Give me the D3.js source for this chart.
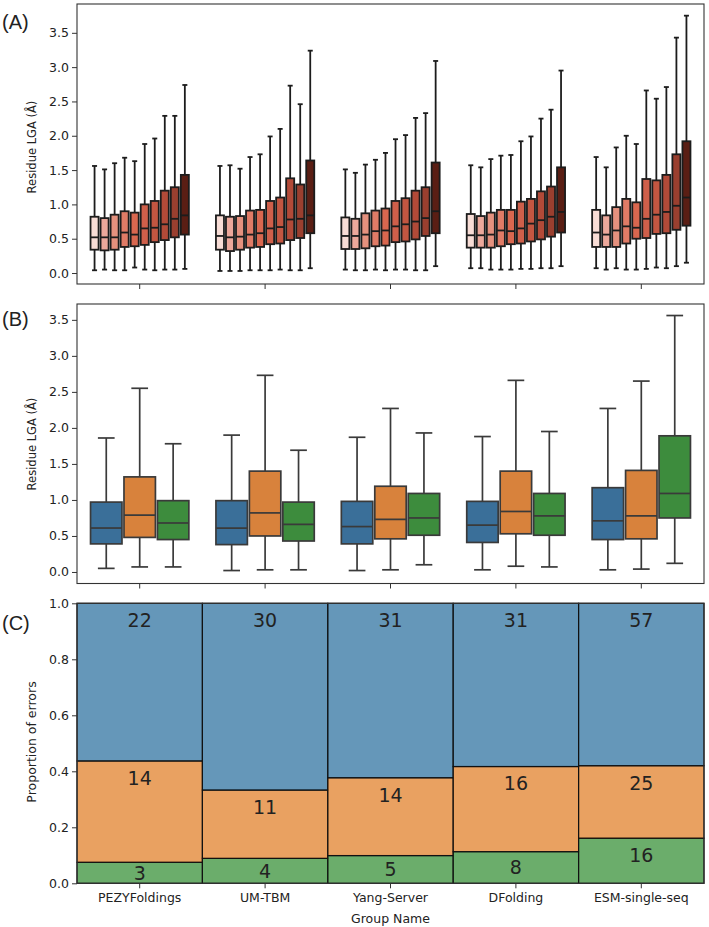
<!DOCTYPE html>
<html lang="en">
<head>
    <meta charset="UTF-8">
    <title>Residue LGA by group</title>
    <script src="https://d3js.org/d3.v7.min.js"></script>
    <style>
        body { margin: 0; background: #fff; }
        text { font-family: "DejaVu Sans", sans-serif; fill: #222; }
    </style>
</head>
<body>
<svg id="viz" width="709" height="927"></svg>

<script>
    // categories
    var groups = ["PEZYFoldings", "UM-TBM", "Yang-Server", "DFolding", "ESM-single-seq"];

    // panel A: ten boxes per group (whisker low, q1, median, q3, whisker high)
    var aLow = [
        [0.04, 0.05, 0.04, 0.04, 0.08, 0.05, 0.04, 0.05, 0.05, 0.06],
        [0.03, 0.03, 0.03, 0.04, 0.04, 0.04, 0.05, 0.04, 0.04, 0.07],
        [0.05, 0.04, 0.04, 0.05, 0.04, 0.05, 0.05, 0.04, 0.04, 0.10],
        [0.07, 0.07, 0.05, 0.05, 0.05, 0.06, 0.06, 0.07, 0.07, 0.10],
        [0.07, 0.05, 0.07, 0.05, 0.05, 0.06, 0.08, 0.07, 0.10, 0.15]
    ];
    var aQ1 = [
        [0.34, 0.33, 0.34, 0.38, 0.39, 0.41, 0.45, 0.48, 0.52, 0.56],
        [0.34, 0.32, 0.34, 0.37, 0.38, 0.42, 0.43, 0.48, 0.51, 0.58],
        [0.35, 0.35, 0.36, 0.39, 0.40, 0.45, 0.46, 0.49, 0.54, 0.58],
        [0.37, 0.37, 0.37, 0.39, 0.42, 0.43, 0.46, 0.49, 0.53, 0.59],
        [0.38, 0.38, 0.38, 0.43, 0.50, 0.51, 0.57, 0.58, 0.63, 0.69]
    ];
    var aMed = [
        [0.52, 0.52, 0.52, 0.59, 0.56, 0.65, 0.66, 0.71, 0.79, 0.84],
        [0.54, 0.52, 0.53, 0.56, 0.58, 0.65, 0.67, 0.78, 0.79, 0.84],
        [0.54, 0.54, 0.56, 0.61, 0.62, 0.68, 0.71, 0.75, 0.80, 0.90],
        [0.55, 0.55, 0.56, 0.62, 0.61, 0.65, 0.72, 0.77, 0.82, 0.89],
        [0.59, 0.56, 0.62, 0.68, 0.66, 0.79, 0.85, 0.89, 0.98, 1.10]
    ];
    var aQ3 = [
        [0.82, 0.80, 0.85, 0.90, 0.88, 1.00, 1.05, 1.20, 1.25, 1.43],
        [0.84, 0.82, 0.83, 0.91, 0.92, 1.05, 1.10, 1.38, 1.29, 1.64],
        [0.81, 0.79, 0.87, 0.91, 0.94, 1.05, 1.09, 1.20, 1.25, 1.61],
        [0.86, 0.83, 0.88, 0.92, 0.92, 1.04, 1.08, 1.19, 1.26, 1.54],
        [0.92, 0.84, 0.96, 1.08, 1.03, 1.37, 1.35, 1.43, 1.73, 1.92]
    ];
    var aHigh = [
        [1.56, 1.51, 1.60, 1.68, 1.63, 1.88, 1.96, 2.29, 2.29, 2.74],
        [1.56, 1.57, 1.52, 1.69, 1.73, 1.99, 2.10, 2.73, 2.46, 3.24],
        [1.51, 1.46, 1.58, 1.65, 1.75, 1.95, 2.01, 2.26, 2.33, 3.09],
        [1.57, 1.54, 1.66, 1.71, 1.72, 1.92, 1.99, 2.25, 2.38, 2.95],
        [1.69, 1.54, 1.83, 2.00, 1.88, 2.66, 2.54, 2.71, 3.43, 3.75]
    ];
    var aColors = ["#f8ddd6", "#eca89b", "#e5917e", "#e07b66", "#d9674f",
        "#cf5f4a", "#c35641", "#b24a38", "#9a3f2f", "#5a1e14"];

    // panel B: three boxes per group
    var bLow = [[0.05, 0.07, 0.07], [0.02, 0.03, 0.03], [0.02, 0.03, 0.10], [0.03, 0.08, 0.07], [0.03, 0.04, 0.12]];
    var bQ1 = [[0.39, 0.48, 0.45], [0.38, 0.50, 0.43], [0.39, 0.46, 0.51], [0.41, 0.53, 0.51], [0.45, 0.46, 0.75]];
    var bMed = [[0.61, 0.79, 0.68], [0.61, 0.82, 0.66], [0.63, 0.73, 0.75], [0.65, 0.84, 0.78], [0.71, 0.78, 1.09]];
    var bQ3 = [[0.97, 1.32, 0.99], [0.99, 1.40, 0.97], [0.98, 1.19, 1.09], [0.98, 1.40, 1.09], [1.17, 1.41, 1.89]];
    var bHigh = [[1.86, 2.55, 1.78], [1.90, 2.73, 1.69], [1.87, 2.27, 1.93], [1.88, 2.66, 1.95], [2.27, 2.65, 3.56]];
    var bColors = ["#3a6f99", "#d8823c", "#3d8c3d"];
    var cColors = ["#3274a1", "#e1812c", "#3a923a"];

    // panel C: proportions (bottom to top) and counts
    var cGreen = [0.075, 0.089, 0.099, 0.113, 0.161];
    var cOrange = [0.362, 0.244, 0.278, 0.304, 0.259];
    var cBlue = [0.563, 0.667, 0.623, 0.583, 0.580];
    var nGreen = [3, 4, 5, 8, 16];
    var nOrange = [14, 11, 14, 16, 25];
    var nBlue = [22, 30, 31, 31, 57];

    var yTicksBox = [0, 0.5, 1.0, 1.5, 2.0, 2.5, 3.0, 3.5];
    var yTicksProp = [0, 0.2, 0.4, 0.6, 0.8, 1.0];

    var svg = d3.select("#viz");
    var left = 77, right = 704;

    var x = d3.scaleBand().domain(groups).range([left, right]).padding(0);

    function drawFrame(top, bottom, y, ticks, showLabels) {
        var g = svg.append("g");
        g.append("g")
            .attr("transform", "translate(" + left + ",0)")
            .call(d3.axisLeft(y).tickValues(ticks).tickFormat(d3.format(".1f")).tickSize(5).tickPadding(3))
            .call(function (a) { a.select(".domain").remove(); })
            .call(function (a) {
                a.selectAll("line").attr("stroke", "#333");
                a.selectAll("text").style("font-size", "12.5px").attr("fill", "#222")
                    .style("font-family", "DejaVu Sans");
            });
        var xa = g.append("g")
            .attr("transform", "translate(0," + bottom + ")")
            .call(d3.axisBottom(x).tickSize(5).tickPadding(5))
            .call(function (a) { a.select(".domain").remove(); });
        xa.selectAll("line").attr("stroke", "#333");
        xa.selectAll("text").style("font-size", "12.5px").attr("fill", "#222")
            .style("font-family", "DejaVu Sans");
        if (!showLabels) xa.selectAll("text").remove();
        g.append("rect")
            .attr("x", left).attr("y", top)
            .attr("width", right - left).attr("height", bottom - top)
            .attr("fill", "none").attr("stroke", "#333").attr("stroke-width", 1.1);
    }

    function drawBoxes(y, low, q1, med, q3, high, colors, edge, lw) {
        var n = colors.length;
        var inner = d3.scaleBand().domain(d3.range(n))
            .range([x.bandwidth() * 0.1, x.bandwidth() * 0.9]).padding(0);
        var slot = inner.bandwidth();
        var boxW = slot - 2;
        var capW = slot * 0.5;
        var data = [];
        groups.forEach(function (gname, gi) {
            for (var k = 0; k < n; k++) {
                data.push({
                    cx: x(gname) + inner(k) + slot / 2, k: k,
                    lo: low[gi][k], q1: q1[gi][k], med: med[gi][k], q3: q3[gi][k], hi: high[gi][k]
                });
            }
        });
        var box = svg.append("g").selectAll(".box").data(data).enter()
            .append("g").attr("class", "box");
        box.append("line")
            .attr("x1", function (d) { return d.cx; }).attr("x2", function (d) { return d.cx; })
            .attr("y1", function (d) { return y(d.hi); }).attr("y2", function (d) { return y(d.q3); })
            .attr("stroke", edge).attr("stroke-width", lw);
        box.append("line")
            .attr("x1", function (d) { return d.cx; }).attr("x2", function (d) { return d.cx; })
            .attr("y1", function (d) { return y(d.q1); }).attr("y2", function (d) { return y(d.lo); })
            .attr("stroke", edge).attr("stroke-width", lw);
        box.append("line")
            .attr("x1", function (d) { return d.cx - capW / 2; }).attr("x2", function (d) { return d.cx + capW / 2; })
            .attr("y1", function (d) { return y(d.hi); }).attr("y2", function (d) { return y(d.hi); })
            .attr("stroke", edge).attr("stroke-width", lw);
        box.append("line")
            .attr("x1", function (d) { return d.cx - capW / 2; }).attr("x2", function (d) { return d.cx + capW / 2; })
            .attr("y1", function (d) { return y(d.lo); }).attr("y2", function (d) { return y(d.lo); })
            .attr("stroke", edge).attr("stroke-width", lw);
        box.append("rect")
            .attr("x", function (d) { return d.cx - boxW / 2; })
            .attr("width", boxW)
            .attr("y", function (d) { return y(d.q3); })
            .attr("height", function (d) { return y(d.q1) - y(d.q3); })
            .attr("fill", function (d) { return colors[d.k]; })
            .attr("stroke", edge).attr("stroke-width", lw);
        box.append("line")
            .attr("x1", function (d) { return d.cx - boxW / 2; }).attr("x2", function (d) { return d.cx + boxW / 2; })
            .attr("y1", function (d) { return y(d.med); }).attr("y2", function (d) { return y(d.med); })
            .attr("stroke", edge).attr("stroke-width", lw);
    }

    function yLabel(text, cy, size) {
        svg.append("text")
            .attr("transform", "translate(36," + cy + ") rotate(-90)")
            .attr("text-anchor", "middle")
            .style("font-size", size + "px")
            .text(text);
    }

    function panelLabel(text, baseline) {
        svg.append("text")
            .attr("x", 2).attr("y", baseline)
            .style("font-family", "Liberation Sans, Arial, sans-serif")
            .style("font-size", "20px")
            .text(text);
    }

    // ---- panel A
    var yA = d3.scaleLinear().domain([-0.16, 3.92]).range([284, 4]);
    drawFrame(4, 284, yA, yTicksBox, false);
    drawBoxes(yA, aLow, aQ1, aMed, aQ3, aHigh, aColors, "#1c1c1c", 1.8);
    yLabel("Residue LGA (Å)", 147, 11.5);
    panelLabel("(A)", 29);

    // ---- panel B
    var yB = d3.scaleLinear().domain([-0.16, 3.72]).range([583.5, 304]);
    drawFrame(304, 583.5, yB, yTicksBox, false);
    drawBoxes(yB, bLow, bQ1, bMed, bQ3, bHigh, bColors, "#3a3a3a", 1.7);
    yLabel("Residue LGA (Å)", 444, 11.5);
    panelLabel("(B)", 326);

    // ---- panel C
    var yC = d3.scaleLinear().domain([0, 1]).range([883.3, 603.3]);
    var stack = [];
    groups.forEach(function (gname, i) {
        var b0 = 0;
        [[cGreen, nGreen, cColors[2]], [cOrange, nOrange, cColors[1]], [cBlue, nBlue, cColors[0]]].forEach(function (s) {
            stack.push({g: gname, y0: b0, y1: b0 + s[0][i], n: s[1][i], color: s[2]});
            b0 += s[0][i];
        });
    });
    var seg = svg.append("g").selectAll(".seg").data(stack).enter();
    seg.append("rect")
        .attr("x", function (d) { return x(d.g); })
        .attr("width", x.bandwidth())
        .attr("y", function (d) { return yC(Math.min(d.y1, 1)); })
        .attr("height", function (d) { return yC(d.y0) - yC(Math.min(d.y1, 1)); })
        .attr("fill", function (d) { return d.color; })
        .attr("fill-opacity", 0.75)
        .attr("stroke", "#111").attr("stroke-width", 1.2);
    seg.append("text")
        .attr("x", function (d) { return x(d.g) + x.bandwidth() / 2; })
        .attr("y", function (d) {
            var top = yC(Math.min(d.y1, 1));
            return Math.min(top + 17, (top + yC(d.y0)) / 2);
        })
        .attr("dy", "0.36em")
        .attr("text-anchor", "middle")
        .style("font-size", "19px")
        .attr("fill", "#111")
        .text(function (d) { return d.n; });
    drawFrame(603.3, 883.3, yC, yTicksProp, true);
    yLabel("Proportion of errors", 742, 12.5);
    panelLabel("(C)", 630);
    svg.append("text")
        .attr("x", (left + right) / 2).attr("y", 923)
        .attr("text-anchor", "middle")
        .style("font-size", "12.5px")
        .text("Group Name");
</script>
</body>
</html>
